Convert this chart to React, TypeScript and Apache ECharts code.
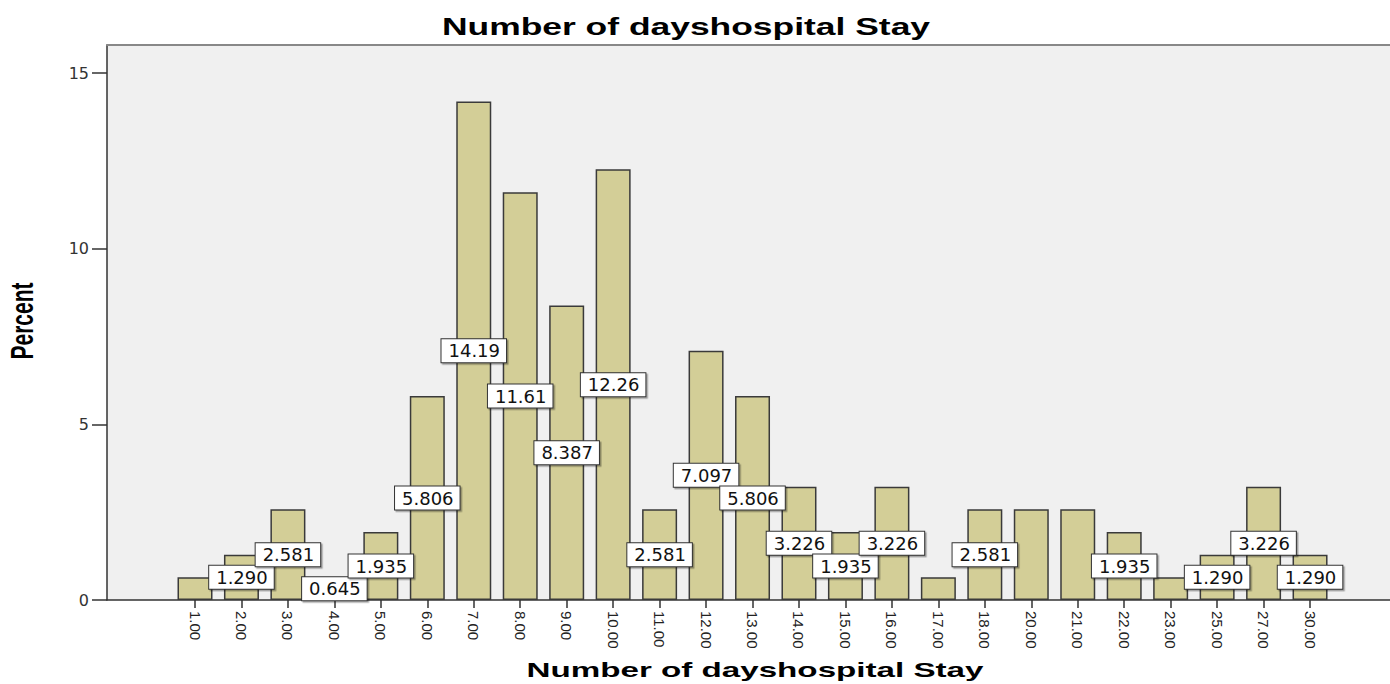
import React, { useEffect, useRef } from "react";
import * as echarts from "echarts";

const categories = [
  "1.00", "2.00", "3.00", "4.00", "5.00", "6.00", "7.00", "8.00", "9.00", "10.00",
  "11.00", "12.00", "13.00", "14.00", "15.00", "16.00", "17.00", "18.00", "20.00",
  "21.00", "22.00", "23.00", "25.00", "27.00", "30.00",
];
const percents = [
  0.645, 1.29, 2.581, 0.645, 1.935, 5.806, 14.19, 11.61, 8.387, 12.26,
  2.581, 7.097, 5.806, 3.226, 1.935, 3.226, 0.645, 2.581, 2.581,
  2.581, 1.935, 0.645, 1.29, 3.226, 1.29,
];
const hiddenLabels = ["1.00", "17.00", "20.00", "21.00", "23.00"];
const yTicks = [0, 5, 10, 15];

const TITLE = "Number of dayshospital Stay";
const X_NAME = "Number of dayshospital Stay";
const Y_NAME = "Percent";
const fmt = (v: number) => (v >= 10 ? v.toFixed(2) : v.toFixed(3));

export default function App() {
  const ref = useRef<HTMLDivElement>(null);
  useEffect(() => {
    document.body.style.margin = "0";
    const chart = echarts.init(ref.current!, null, { renderer: "svg" });
    const top = 45;
    const bottom = 84;
    const yMax = 15.8;
    const band = 46.46;
    const firstCenter = 195;
    const innerLeft = firstCenter - band / 2;
    const innerWidth = band * categories.length;
    chart.setOption({
      animation: false,
      graphic: [
        {
          type: "text",
          x: 686,
          y: 27,
          scaleX: 1.54,
          style: {
            text: TITLE,
            align: "center",
            verticalAlign: "middle",
            font: "bold 23px 'Liberation Sans', Arial, sans-serif",
            fill: "#000",
          },
        },
        {
          type: "text",
          x: 755,
          y: 670,
          scaleX: 1.58,
          style: {
            text: X_NAME,
            align: "center",
            verticalAlign: "middle",
            font: "bold 21px 'Liberation Sans', Arial, sans-serif",
            fill: "#000",
          },
        },
        {
          type: "text",
          x: 22,
          y: 321,
          rotation: Math.PI / 2,
          scaleY: 1.5,
          style: {
            text: Y_NAME,
            align: "center",
            verticalAlign: "middle",
            font: "bold 21px 'Liberation Sans', Arial, sans-serif",
            fill: "#000",
          },
        },
      ],
      grid: [
        { left: 107, right: 0, top, bottom, show: true, backgroundColor: "#f0f0f0", borderWidth: 0 },
        { left: innerLeft, width: innerWidth, top, bottom },
      ],
      xAxis: [
        {
          type: "value",
          gridIndex: 0,
          min: 0,
          max: 1,
          position: "bottom",
          axisLine: { show: true, lineStyle: { color: "#333", width: 1.5 } },
          axisTick: { show: false },
          axisLabel: { show: false },
          splitLine: { show: false },
        },
        {
          type: "value",
          gridIndex: 0,
          min: 0,
          max: 1,
          position: "top",
          axisLine: { show: true, lineStyle: { color: "#888", width: 2 } },
          axisTick: { show: false },
          axisLabel: { show: false },
          splitLine: { show: false },
        },
        {
          type: "category",
          gridIndex: 1,
          data: categories,
          axisLine: { show: false },
          axisTick: { show: true, alignWithLabel: true, length: 8, lineStyle: { color: "#333", width: 1.5 } },
          axisLabel: {
            rotate: -90,
            margin: 11,
            fontFamily: "Liberation Sans",
            fontSize: 15,
            color: "#222",
            interval: 0,
          },
        },
      ],
      yAxis: [
        {
          type: "value",
          gridIndex: 0,
          min: 0,
          max: yMax,
          axisLine: { show: true, lineStyle: { color: "#333", width: 1.5 } },
          axisTick: { show: true, length: 15, customValues: yTicks, lineStyle: { color: "#333", width: 1.5 } },
          axisLabel: {
            customValues: yTicks,
            fontFamily: "DejaVu Sans",
            fontSize: 16,
            color: "#333",
            margin: 18,
          },
          splitLine: { show: false },
        },
        {
          type: "value",
          gridIndex: 1,
          min: 0,
          max: yMax,
          show: false,
        },
      ],
      series: [
        {
          type: "bar",
          xAxisIndex: 2,
          yAxisIndex: 1,
          barWidth: 35,
          data: percents.map((v, i) => ({
            value: v,
            label: { show: !hiddenLabels.includes(categories[i]) },
          })),
          itemStyle: { color: "#d3ce97", borderColor: "#3a3a3a", borderWidth: 1.5 },
          label: {
            show: true,
            position: "inside",
            formatter: (p: any) => fmt(p.value),
            fontFamily: "DejaVu Sans",
            fontSize: 18,
            color: "#111",
            backgroundColor: "#fff",
            borderColor: "#333",
            borderWidth: 1,
            padding: [3, 6, 2, 7],
            shadowColor: "rgba(0,0,0,0.35)",
            shadowOffsetX: 1.5,
            shadowOffsetY: 1.5,
            shadowBlur: 1,
          },
        },
      ],
    });
    return () => chart.dispose();
  }, []);
  return <div ref={ref} style={{ width: 1390, height: 684 }} />;
}
